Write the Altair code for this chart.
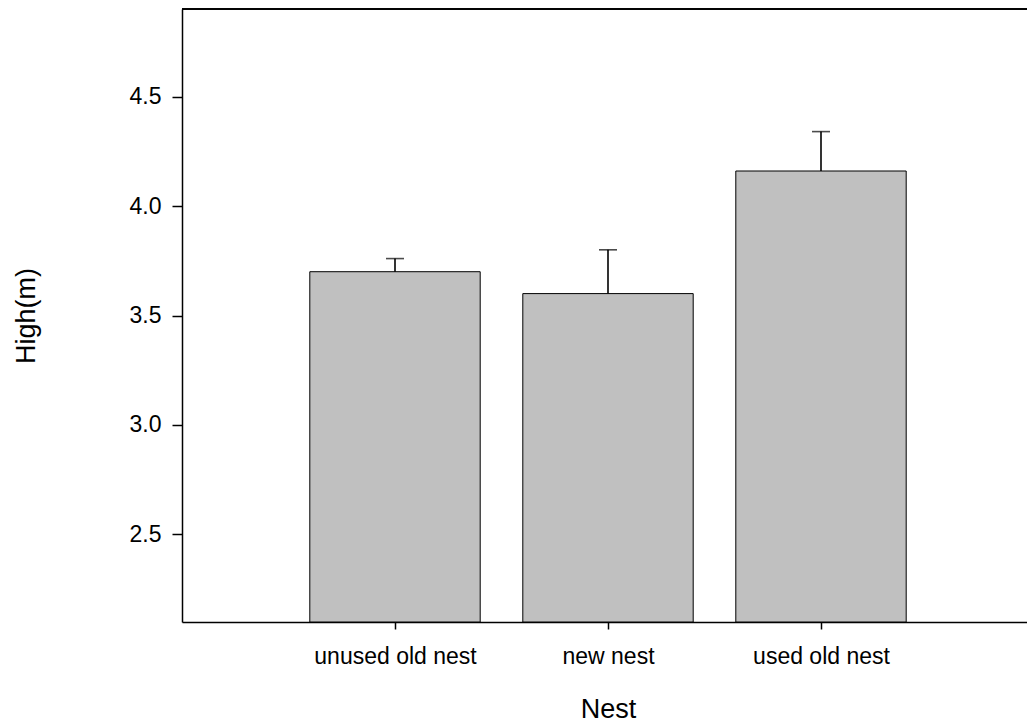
import altair as alt
import pandas as pd

# Mean nest height per nest type, with the upper error (SE) above each bar
nests = ["unused old nest", "new nest", "used old nest"]
positions = [1, 2, 3]
heights = [3.70, 3.60, 4.16]
errors = [0.06, 0.20, 0.18]

df = pd.DataFrame({"nest": nests, "pos": positions, "height": heights, "err": errors})

W, H = 845, 613
FONT = "Liberation Sans"

x_scale = alt.Scale(domain=[0, 845 / 213], nice=False, zero=False)
y_scale = alt.Scale(domain=[2.1, 4.9], nice=False, zero=False)

label_expr = "[" + ",".join(f"'{n}'" for n in nests) + "][datum.value - 1]"

x_axis = alt.Axis(
    values=positions,
    labelExpr=label_expr,
    title="Nest",
    grid=False,
    tickSize=7,
    tickColor="#000000",
    tickWidth=1.5,
    domainColor="#000000",
    domainWidth=1.5,
    labelFont=FONT,
    labelFontSize=23,
    labelColor="#000000",
    labelPadding=16,
    titleFont=FONT,
    titleFontSize=27,
    titleFontWeight="normal",
    titleColor="#000000",
    titleX=426,
    titleY=95,
    titleBaseline="alphabetic",
)

y_axis = alt.Axis(
    values=[2.5, 3.0, 3.5, 4.0, 4.5],
    format=".1f",
    title="High(m)",
    grid=False,
    tickSize=10,
    tickColor="#000000",
    tickWidth=1.5,
    domainColor="#000000",
    domainWidth=1.5,
    labelFont=FONT,
    labelFontSize=23,
    labelColor="#000000",
    labelPadding=11,
    titleFont=FONT,
    titleFontSize=27,
    titleFontWeight="normal",
    titleColor="#000000",
    titleX=-148,
    titleBaseline="alphabetic",
)

base = alt.Chart(df).transform_calculate(
    left="datum.pos - 0.4",
    right="datum.pos + 0.4",
    top="datum.height + datum.err",
)

bars = base.mark_bar(color="#c0c0c0", stroke="#000000", strokeWidth=1).encode(
    x=alt.X("left:Q", scale=x_scale, axis=x_axis),
    x2="right:Q",
    y=alt.Y("height:Q", scale=y_scale, axis=y_axis),
    y2=alt.Y2(datum=2.1),
)

err_line = base.mark_rule(color="#000000", strokeWidth=1.6).encode(
    x=alt.X("pos:Q", scale=x_scale, axis=x_axis),
    y=alt.Y("height:Q", scale=y_scale, axis=y_axis),
    y2="top:Q",
)

err_cap = base.mark_tick(color="#000000", orient="horizontal", size=18, thickness=1.6).encode(
    x=alt.X("pos:Q", scale=x_scale, axis=x_axis),
    y=alt.Y("top:Q", scale=y_scale, axis=y_axis),
)

# Top frame line of the plot area
top_line = alt.Chart(df).mark_rule(color="#000000", strokeWidth=1.5).encode(
    x=alt.value(0), x2=alt.value(W), y=alt.value(0)
)

chart = (
    alt.layer(bars, err_line, err_cap, top_line)
    .properties(
        width=W,
        height=H,
        autosize=alt.AutoSizeParams(type="none"),
        padding={"left": 182, "top": 9, "right": 0, "bottom": 103},
        background="#ffffff",
    )
    .configure_view(stroke=None)
)

chart.save("out.html", embed_options={"renderer": "svg", "actions": False})
